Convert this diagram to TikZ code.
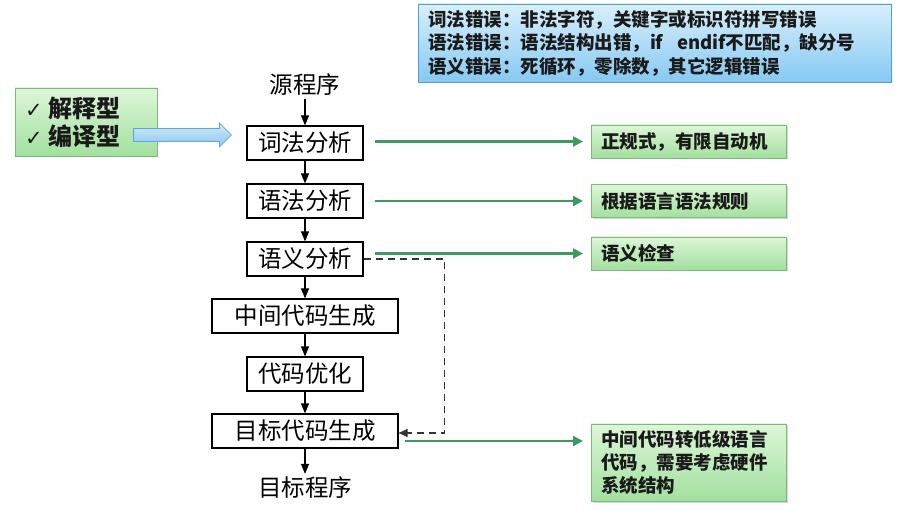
\documentclass[tikz,border=0pt]{standalone}
\usepackage{fontspec}
\setmainfont{Liberation Sans}
\newfontfamily\cjk{Noto Sans CJK SC}
\newfontfamily\sym{DejaVu Sans}
\usetikzlibrary{arrows.meta,shapes.arrows,shadows,calc}
\definecolor{gtop}{HTML}{DDF6D8}
\definecolor{gbot}{HTML}{A2E09E}
\definecolor{gborder}{HTML}{7DB87D}
\definecolor{btop}{HTML}{D8EFFD}
\definecolor{bbot}{HTML}{86C9F2}
\definecolor{bborder}{HTML}{4F9FD6}
\definecolor{garr}{HTML}{3E9A5E}
\definecolor{txt}{HTML}{1A1A1A}
\definecolor{arrtop}{HTML}{D2EBFC}
\definecolor{arrbot}{HTML}{8CC6EE}
\definecolor{arrborder}{HTML}{5EA6DA}
\tikzset{
  flowbox/.style={draw=black, line width=1.2pt, fill=white, minimum height=34pt, inner sep=0pt,
    font=\cjk\fontsize{23.5}{27}\selectfont},
  flowtext/.style={inner sep=0pt, font=\cjk\fontsize{23.5}{27}\selectfont},
  flowarrow/.style={line width=1.1pt, -{Triangle[length=10pt,width=8pt]}},
  softshadow/.style={drop shadow={shadow xshift=1.2pt, shadow yshift=-1.5pt, opacity=0.25, fill=black!60}},
  gbox/.style={draw=gborder, line width=0.8pt, top color=gtop, bottom color=gbot, softshadow,
    minimum height=33pt, text width=175pt, align=left, inner xsep=10pt, inner ysep=0pt,
    text=txt, font=\cjk\bfseries\fontsize{18.5}{22.8}\selectfont, anchor=west},
  garrow/.style={draw=garr, line width=2.8pt, -{Triangle[length=10pt,width=10pt]}},
  dasharrow/.style={draw=black!80, line width=1.1pt, dash pattern=on 7pt off 5pt,
    -{Triangle[length=9pt,width=8pt]}},
}
\begin{document}
\begin{tikzpicture}[x=1pt,y=-1pt]
\useasboundingbox (0,0) rectangle (905,518);
\fill[white] (0,0) rectangle (905,518);

% top blue box
\node[draw=bborder, line width=0.8pt, top color=btop, bottom color=bbot, softshadow,
  minimum height=78pt, text width=453pt, align=left, inner xsep=10pt, inner ysep=0pt,
  text=txt, font=\cjk\bfseries\fontsize{18.5}{23.5}\selectfont] (err) at (654.5,43)
  {词法错误：非法字符，关键字或标识符拼写错误\\
   语法错误：语法结构出错，if\hspace{14pt}endif不匹配，缺分号\\
   语义错误：死循环，零除数，其它逻辑错误};

% left green box
\node[draw=gborder, line width=0.8pt, top color=gtop, bottom color=gbot, softshadow,
  minimum height=68pt, text width=122pt, align=left, inner xsep=10pt, inner ysep=0pt,
  text=txt, font=\cjk\bfseries\fontsize{24}{28}\selectfont] (kind) at (86,122)
  {{\sym\fontsize{21}{24}\selectfont ✓}\hspace{6pt}解释型\\
   {\sym\fontsize{21}{24}\selectfont ✓}\hspace{6pt}编译型};

% flowchart
\node[flowtext] (src) at (305,85) {源程序};
\node[flowbox, minimum width=116pt] (lex) at (305,143) {词法分析};
\node[flowbox, minimum width=116pt] (syn) at (305,201) {语法分析};
\node[flowbox, minimum width=116pt] (sem) at (305,259) {语义分析};
\node[flowbox, minimum width=186pt] (ir)  at (305,316) {中间代码生成};
\node[flowbox, minimum width=116pt] (opt) at (305,374) {代码优化};
\node[flowbox, minimum width=186pt] (gen) at (305,431) {目标代码生成};
\node[flowtext] (tgt) at (305,488) {目标程序};

\draw[flowarrow] ([yshift=-3pt]src.south) -- (lex);
\draw[flowarrow] (lex) -- (syn);
\draw[flowarrow] (syn) -- (sem);
\draw[flowarrow] (sem) -- (ir);
\draw[flowarrow] (ir) -- (opt);
\draw[flowarrow] (opt) -- (gen);
\draw[flowarrow] (gen) -- ([yshift=3pt]tgt.north);

% right green boxes
\node[gbox] (n1) at (591,141.5) {正规式，有限自动机};
\node[gbox] (n2) at (591,201) {根据语言语法规则};
\node[gbox] (n3) at (591,253.5) {语义检查};
\node[gbox, minimum height=77pt] (n4) at (591,462.5)
  {中间代码转低级语言\\代码，需要考虑硬件\\系统结构};

\draw[garrow] ([xshift=11pt]lex.east |- n1.west) -- ([xshift=-8pt]n1.west);
\draw[garrow] ([xshift=11pt]syn.east |- n2.west) -- ([xshift=-8pt]n2.west);
\draw[garrow] ([xshift=11pt]sem.east |- n3.west) -- ([xshift=-8pt]n3.west);
\coordinate (g4) at ([xshift=6pt,yshift=-10pt]gen.east);
\coordinate (n4w) at ([xshift=-8pt]n4.west);
\draw[garrow] (g4) -- (n4w |- g4);

% dashed feedback
\draw[dasharrow] (sem.east) -- ++(81,0) |- ([yshift=-2pt]gen.east);

% blue block arrow
\coordinate (ba) at ([xshift=-24pt,yshift=-13pt]kind.east);
\coordinate (lw) at ([xshift=-15pt]lex.west);
\coordinate (bb) at (ba -| lw);
\draw[arrborder, line width=0.8pt, top color=arrtop, bottom color=arrbot]
  ($(ba)+(0,-6.5)$) -- ($(bb)+(-12,-6.5)$) -- ($(bb)+(-12,-12)$) -- (bb)
  -- ($(bb)+(-12,12)$) -- ($(bb)+(-12,6.5)$) -- ($(ba)+(0,6.5)$) -- cycle;
\end{tikzpicture}
\end{document}
